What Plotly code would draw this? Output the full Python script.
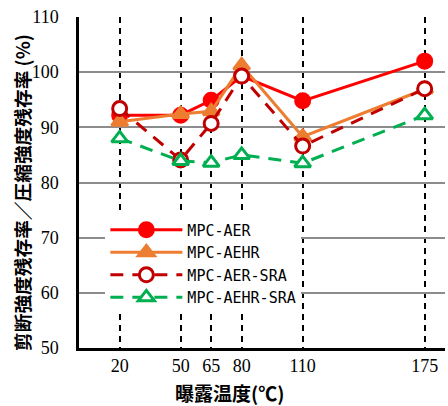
import plotly.graph_objects as go

# Exposure temperatures: tick labels and their positions on the x axis
temp_labels = ["20", "50", "65", "80", "110", "175"]
temp_pos = [20, 50, 65, 80, 110, 170]

# Residual strength ratio (%)
aer = [92.2, 92.2, 94.9, 99.3, 94.8, 102.0]
aehr = [91.0, 92.4, 92.9, 101.2, 88.3, 96.9]
aer_sra = [93.4, 84.1, 90.7, 99.3, 86.6, 97.0]
aehr_sra = [88.0, 83.9, 83.6, 85.0, 83.5, 92.2]

series = [
    ("MPC-AER", aer, "#FF0000", "solid", "circle", "#FF0000"),
    ("MPC-AEHR", aehr, "#ED7D31", "solid", "triangle-up", "#ED7D31"),
    ("MPC-AER-SRA", aer_sra, "#C00000", "13px,9px", "circle", "white"),
    ("MPC-AEHR-SRA", aehr_sra, "#00B050", "13px,9px", "triangle-up", "white"),
]

fig = go.Figure()
for name, vals, color, dash, symbol, fill in series:
    fig.add_trace(go.Scatter(
        x=temp_pos, y=vals, name=name, mode="lines+markers",
        line=dict(color=color, width=3, dash=dash),
        marker=dict(symbol=symbol, size=14, color=fill,
                    line=dict(color=color, width=3)),
    ))

fig.update_layout(
    width=448, height=406,
    margin=dict(l=79, r=3, t=17, b=58),
    paper_bgcolor="white", plot_bgcolor="white",
    showlegend=True,
    legend=dict(
        x=0.072, y=0.406, xanchor="left", yanchor="top",
        bgcolor="white", borderwidth=0,
        font=dict(family="DejaVu Sans Mono", size=15, color="black"),
        tracegroupgap=0, itemwidth=72,
    ),
    font=dict(family="Liberation Serif", size=18, color="black"),
)

fig.update_xaxes(
    range=[0, 180],
    tickmode="array", tickvals=temp_pos, ticktext=temp_labels,
    showgrid=True, gridcolor="black", gridwidth=2, griddash="6px,5px",
    showline=True, linecolor="black", linewidth=2.5,
    ticks="", ticklabelstandoff=0, zeroline=False,
    tickfont=dict(family="Liberation Serif", size=18),
)
fig.update_yaxes(
    range=[50, 110], dtick=10,
    showgrid=True, gridcolor="#8C8C8C", gridwidth=1.5,
    showline=True, linecolor="black", linewidth=2.5,
    ticks="", ticklabelstandoff=14, zeroline=False,
    tickfont=dict(family="Liberation Serif", size=18),
)

# Axis titles
fig.add_annotation(
    text="<b>曝露温度(℃)</b>", xref="paper", yref="paper",
    x=(229 - 79) / 366, y=-0.133, xanchor="center", yanchor="middle",
    showarrow=False, font=dict(family="Noto Sans CJK JP", size=19),
)
fig.add_annotation(
    text="<b>剪断強度残存率／圧縮強度残存率 (%)</b>", xref="paper", yref="paper",
    x=-0.157, y=0.47, xanchor="center", yanchor="middle", textangle=-90,
    showarrow=False, font=dict(family="Noto Sans CJK JP", size=18.7),
)

fig.write_html("out.html")
